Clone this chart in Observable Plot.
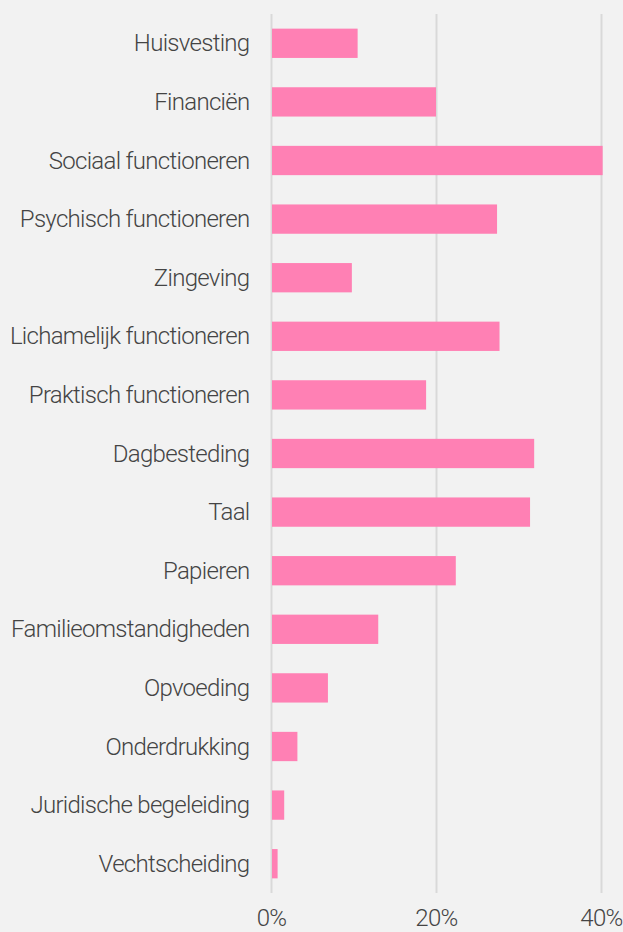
<!DOCTYPE html>
<html>
<head>
<meta charset="utf-8">
<script src="https://cdn.jsdelivr.net/npm/d3@7"></script>
<script src="https://cdn.jsdelivr.net/npm/@observablehq/plot@0.6"></script>
<style>
  html, body { margin: 0; padding: 0; background: #f2f2f2; }
  #chart svg { display: block; }
  #chart svg text { letter-spacing: -0.7px; }
</style>
</head>
<body>
<div id="chart"></div>
<script>
const categories = [
  "Huisvesting", "Financiën", "Sociaal functioneren", "Psychisch functioneren",
  "Zingeving", "Lichamelijk functioneren", "Praktisch functioneren", "Dagbesteding",
  "Taal", "Papieren", "Familieomstandigheden", "Opvoeding", "Onderdrukking",
  "Juridische begeleiding", "Vechtscheiding"
];
const values = [10.5, 20.0, 40.2, 27.4, 9.8, 27.7, 18.8, 31.9, 31.4, 22.4, 13.0, 6.9, 3.2, 1.6, 0.8];
const xTicks = [0, 20, 40];

const data = categories.map((c, i) => ({category: c, value: values[i]}));

const chart = Plot.plot({
  width: 623,
  height: 932,
  marginLeft: 271,
  marginRight: 22,
  marginTop: 14,
  marginBottom: 39,
  style: {
    background: "#f2f2f2",
    fontFamily: "Roboto",
    fontWeight: 300,
    color: "#444"
  },
  x: { domain: [0, 40] },
  y: { domain: categories, paddingInner: 0.5, paddingOuter: 0.25, round: false },
  marks: [
    Plot.ruleX(xTicks, { x: d => d, stroke: "#d9d9d9", strokeWidth: 2 }),
    Plot.barX(data, { x: "value", y: "category", fill: "#ff80b4", insetLeft: 1 }),
    Plot.axisY({ tickSize: 0, tickPadding: 22, fontSize: 24, fill: "#444", label: null }),
    Plot.axisX({ ticks: xTicks, tickFormat: d => d + "%", tickSize: 0, tickPadding: 15, fontSize: 24, fill: "#444", label: null })
  ]
});
document.getElementById("chart").appendChild(chart);
</script>
</body>
</html>
